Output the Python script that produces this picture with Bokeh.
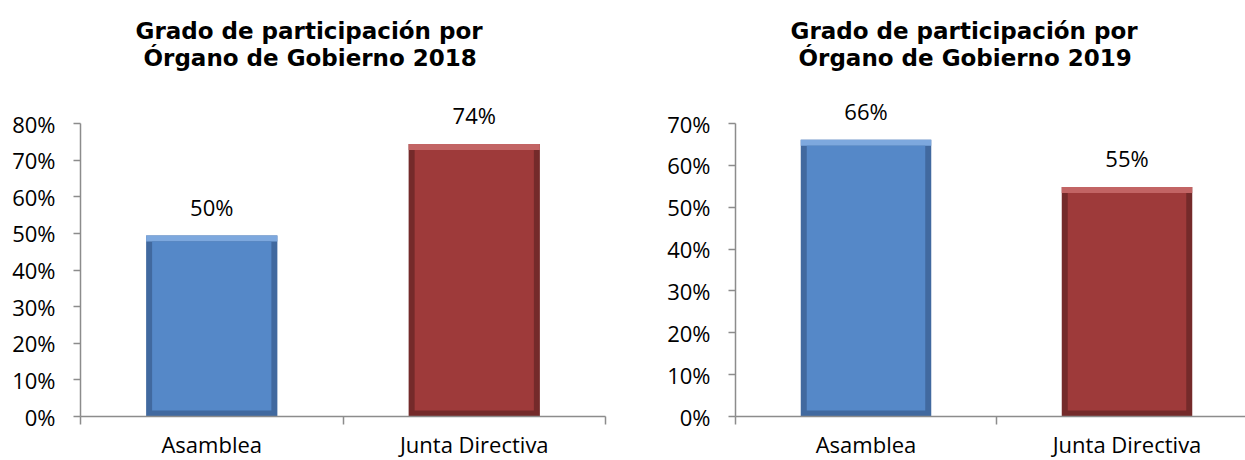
from bokeh.plotting import figure
from bokeh.models import (Range1d, FixedTicker, NumeralTickFormatter, Title,
                          ColumnDataSource, LabelSet)
from bokeh.layouts import row
from bokeh.embed import file_html
from bokeh.resources import INLINE
from bokeh.core.properties import value

# ---------------- data ----------------
categories = ["Asamblea", "Junta Directiva"]
values_2018 = [0.494, 0.744]
values_2019 = [0.661, 0.548]
labels_2018 = ["50%", "74%"]
labels_2019 = ["66%", "55%"]
title_2018 = ["Grado de participación por", "Órgano de Gobierno 2018"]
title_2019 = ["Grado de participación por", "Órgano de Gobierno 2019"]
yticks_2018 = [0.0, 0.1, 0.2, 0.3, 0.4, 0.5, 0.6, 0.7, 0.8]
yticks_2019 = [0.0, 0.1, 0.2, 0.3, 0.4, 0.5, 0.6, 0.7]

# ---------------- style ----------------
MAIN = ["#5588C8", "#9E3A3A"]
EDGE = ["#41699F", "#742A2A"]
LIGHT = ["#7DA8DE", "#C26464"]
AXIS_COLOR = "#8C8C8C"
LABEL_FONT = "Open Sans"
TITLE_FONT = "DejaVu Sans"
AXIS_H = 293      # pixel height of the 0..max axis
EXTRA_TOP = 50    # frame space above the axis top (room for value labels)
BAR_W = 0.5


def make_chart(values, labels, yticks, title_lines, frame_w, x_end,
               border_left, border_right):
    ymax = yticks[-1]
    frame_h = AXIS_H + EXTRA_TOP
    y_end = ymax * frame_h / AXIS_H
    p = figure(x_range=Range1d(0, x_end), y_range=Range1d(0, y_end),
               frame_width=frame_w, frame_height=frame_h,
               min_border_left=border_left, min_border_right=border_right,
               min_border_top=73, min_border_bottom=40,
               output_backend="svg", toolbar_location=None, title=None)
    p.outline_line_color = None
    p.xgrid.visible = False
    p.ygrid.visible = False
    p.background_fill_color = "white"
    p.border_fill_color = "white"

    n = len(categories)
    xs = [i + 0.5 for i in range(n)]
    px_x = x_end / frame_w
    px_y = y_end / frame_h
    bx = 6 * px_x
    by = 6 * px_y

    src = ColumnDataSource(dict(
        x=xs, top=values, lab=labels,
        left=[x - BAR_W / 2 for x in xs], right=[x + BAR_W / 2 for x in xs],
        ileft=[x - BAR_W / 2 + bx for x in xs], iright=[x + BAR_W / 2 - bx for x in xs],
        itop=[v - by for v in values], ibottom=[by for _ in values],
        main=MAIN, edge=EDGE, light=LIGHT,
    ))
    p.quad(left="left", right="right", top="top", bottom=0, source=src,
           fill_color="edge", line_color=None)
    p.quad(left="left", right="right", top="top", bottom="itop", source=src,
           fill_color="light", line_color=None)
    p.quad(left="ileft", right="iright", top="itop", bottom="ibottom", source=src,
           fill_color="main", line_color=None)

    p.add_layout(LabelSet(x="x", y="top", text="lab", source=src, y_offset=20,
                          text_align="center", text_baseline="alphabetic",
                          text_font=value(LABEL_FONT), text_font_size=value("22px"),
                          text_color=value("#000000")))

    # x axis: category labels at centres, separator ticks at boundaries
    xa = p.xaxis[0]
    xa.ticker = FixedTicker(ticks=xs, minor_ticks=[float(i) for i in range(n + 1)])
    xa.major_label_overrides = {x: c for x, c in zip(xs, categories)}
    xa.major_tick_out = 0
    xa.major_tick_in = 0
    xa.minor_tick_out = 8
    xa.minor_tick_in = 0
    xa.minor_tick_line_color = AXIS_COLOR
    xa.axis_line_color = AXIS_COLOR
    xa.axis_line_width = 1.5
    xa.minor_tick_line_width = 1.5
    xa.major_label_standoff = 4
    xa.major_label_text_font = LABEL_FONT
    xa.major_label_text_font_size = "22px"
    xa.major_label_text_color = "#000000"

    ya = p.yaxis[0]
    ya.bounds = (0, ymax)
    ya.ticker = FixedTicker(ticks=yticks, minor_ticks=[])
    ya.formatter = NumeralTickFormatter(format="0%")
    ya.major_tick_out = 7
    ya.major_tick_in = 0
    ya.major_tick_line_color = AXIS_COLOR
    ya.major_tick_line_width = 1.5
    ya.axis_line_color = AXIS_COLOR
    ya.axis_line_width = 1.5
    ya.major_label_standoff = 18
    ya.major_label_text_font = LABEL_FONT
    ya.major_label_text_font_size = "22px"
    ya.major_label_text_color = "#000000"

    # two title lines, closest-to-frame line added first
    t2 = Title(text=title_lines[1], align="left", offset=63, standoff=2,
               vertical_align="top",
               text_font=TITLE_FONT, text_font_size="23px", text_font_style="bold",
               text_color="#000000")
    p.add_layout(t2, "above")
    t1 = Title(text=title_lines[0], align="left", offset=55, standoff=0,
               vertical_align="bottom",
               text_font=TITLE_FONT, text_font_size="23px", text_font_style="bold",
               text_color="#000000")
    p.add_layout(t1, "above")
    return p


p1 = make_chart(values_2018, labels_2018, yticks_2018, title_2018,
                frame_w=525, x_end=2.0, border_left=80, border_right=23)
p2 = make_chart(values_2019, labels_2019, yticks_2019, title_2019,
                frame_w=510, x_end=510 / 261, border_left=107, border_right=0)

layout = row(p1, p2)
open("out.html", "w").write(file_html(layout, INLINE))
